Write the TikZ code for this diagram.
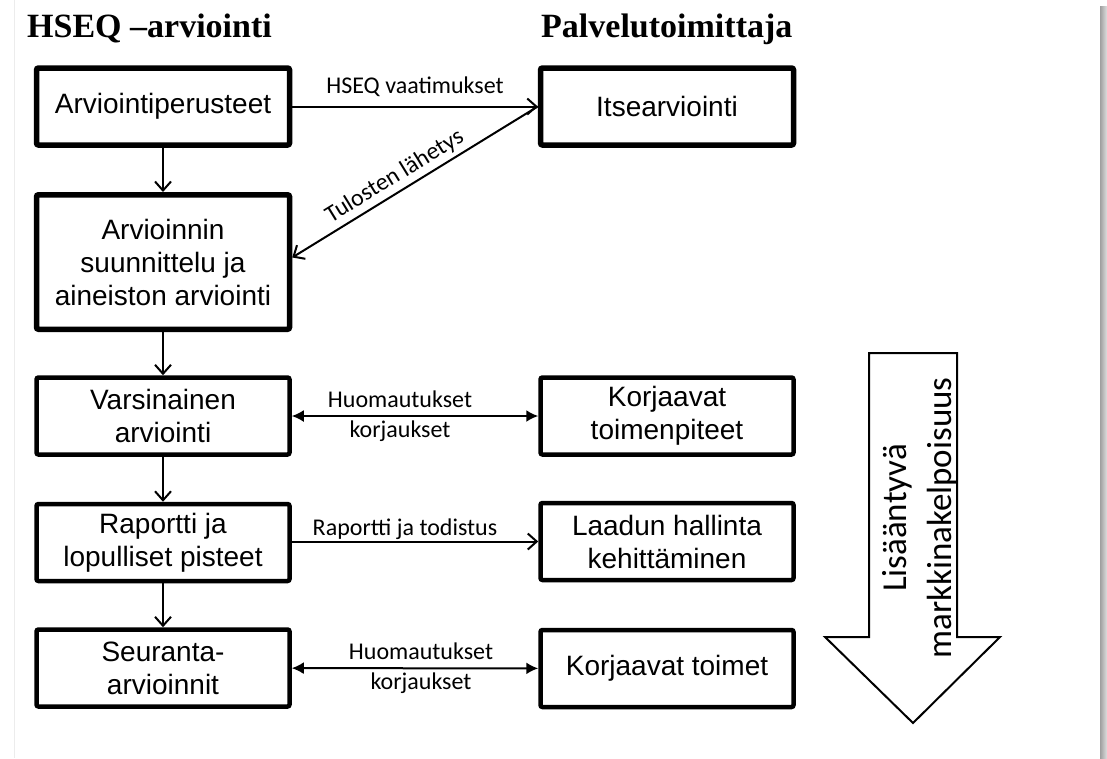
\documentclass[tikz,border=0pt]{standalone}
\usepackage{fontspec}
\usepackage{tikz}
\usetikzlibrary{arrows.meta}
\newfontfamily\titlefont{Liberation Serif}
\newfontfamily\boxfont{Liberation Sans}
\newfontfamily\lblfont{Carlito}
\tikzset{
	box/.style = {draw, line width=4.5pt, rounded corners=2pt, minimum width=253pt,
		minimum height=77pt, inner sep=0pt, align=center,
		font=\boxfont\fontsize{28}{33}\selectfont},
	thickbox/.style = {box, line width=5.5pt},
	lbl/.style = {inner sep=1pt, align=center, font=\lblfont\fontsize{24}{30}\selectfont},
	heading/.style = {inner sep=0pt, anchor=base west, font=\titlefont\bfseries\fontsize{34}{40}\selectfont},
	flow/.style = {line width=2pt, -{Straight Barb[length=9pt, width=16pt]}},
	flowback/.style = {line width=2pt, {Straight Barb[length=9pt, width=16pt]}-},
	both/.style = {line width=2pt, {Latex[length=12pt, width=12pt]}-{Latex[length=12pt, width=12pt]}}
}
\begin{document}
\begin{tikzpicture}[x=1pt, y=-1pt]
		\useasboundingbox (0,0) rectangle (1107,758);
		\draw[gray!15, line width=1pt] (14,0) -- (14,758);
		\shade[left color=gray!75, right color=gray!25] (1100,6) rectangle (1107,758);

		\node[heading] (hseq) at (27,37) {HSEQ –arviointi};
		\node[heading] (palv) at (541,37) {Palvelutoimittaja};

		\node[thickbox] (b1) at (163,106.5) {Arviointiperusteet};
		\node[thickbox, minimum height=134.5pt] (b2) at (163,262) {Arvioinnin\\suunnittelu ja\\aineiston arviointi};
		\node[box] (b3) at (163,416) {Varsinainen\\arviointi};
		\node[box] (b4) at (163,542.5) {Raportti ja\\lopulliset pisteet};
		\node[box] (b5) at (163,668) {Seuranta-\\arvioinnit};

		\node[thickbox] (i1) at (667,106.5) {Itsearviointi};
		\node[box] (r3) at (667,416) {Korjaavat\\toimenpiteet};
		\node[box] (r4) at (667,541.5) {Laadun hallinta\\kehittäminen};
		\node[box] (r5) at (667,668.5) {Korjaavat toimet};

		\draw[flow] (b1) -- (b2);
		\draw[flow] (b2) -- (b3);
		\draw[flow] (b3) -- (b4);
		\draw[flow] (b4) -- (b5);

		\draw[flow] (b1) -- node[lbl, above=8pt] {HSEQ vaatimukset} (i1);
		\draw[flowback] (b2.2) -- node[lbl, sloped, above=3pt, pos=0.45] {Tulosten lähetys} (i1.west);
		\draw[both] (b3) -- node[lbl, xshift=-15pt] {Huomautukset\\korjaukset} (r3);
		\draw[flow] (b4.east |- r4) -- node[lbl, above, xshift=-10pt] {Raportti ja todistus} (r4);
		\draw[both] (b5) -- node[lbl, xshift=6pt] {Huomautukset\\korjaukset} (r5);

		\draw[line width=2pt, fill=white] (869,353) -- (957,353) -- (957,637) -- (1000,637)
			-- (913,723) -- (825,637) -- (869,637) -- cycle;
		\node[inner sep=0pt, rotate=90, align=center, font=\lblfont\fontsize{35}{45}\selectfont] (mk) at (920,518) {Lisääntyvä\\markkinakelpoisuus};
	\end{tikzpicture}
\end{document}
